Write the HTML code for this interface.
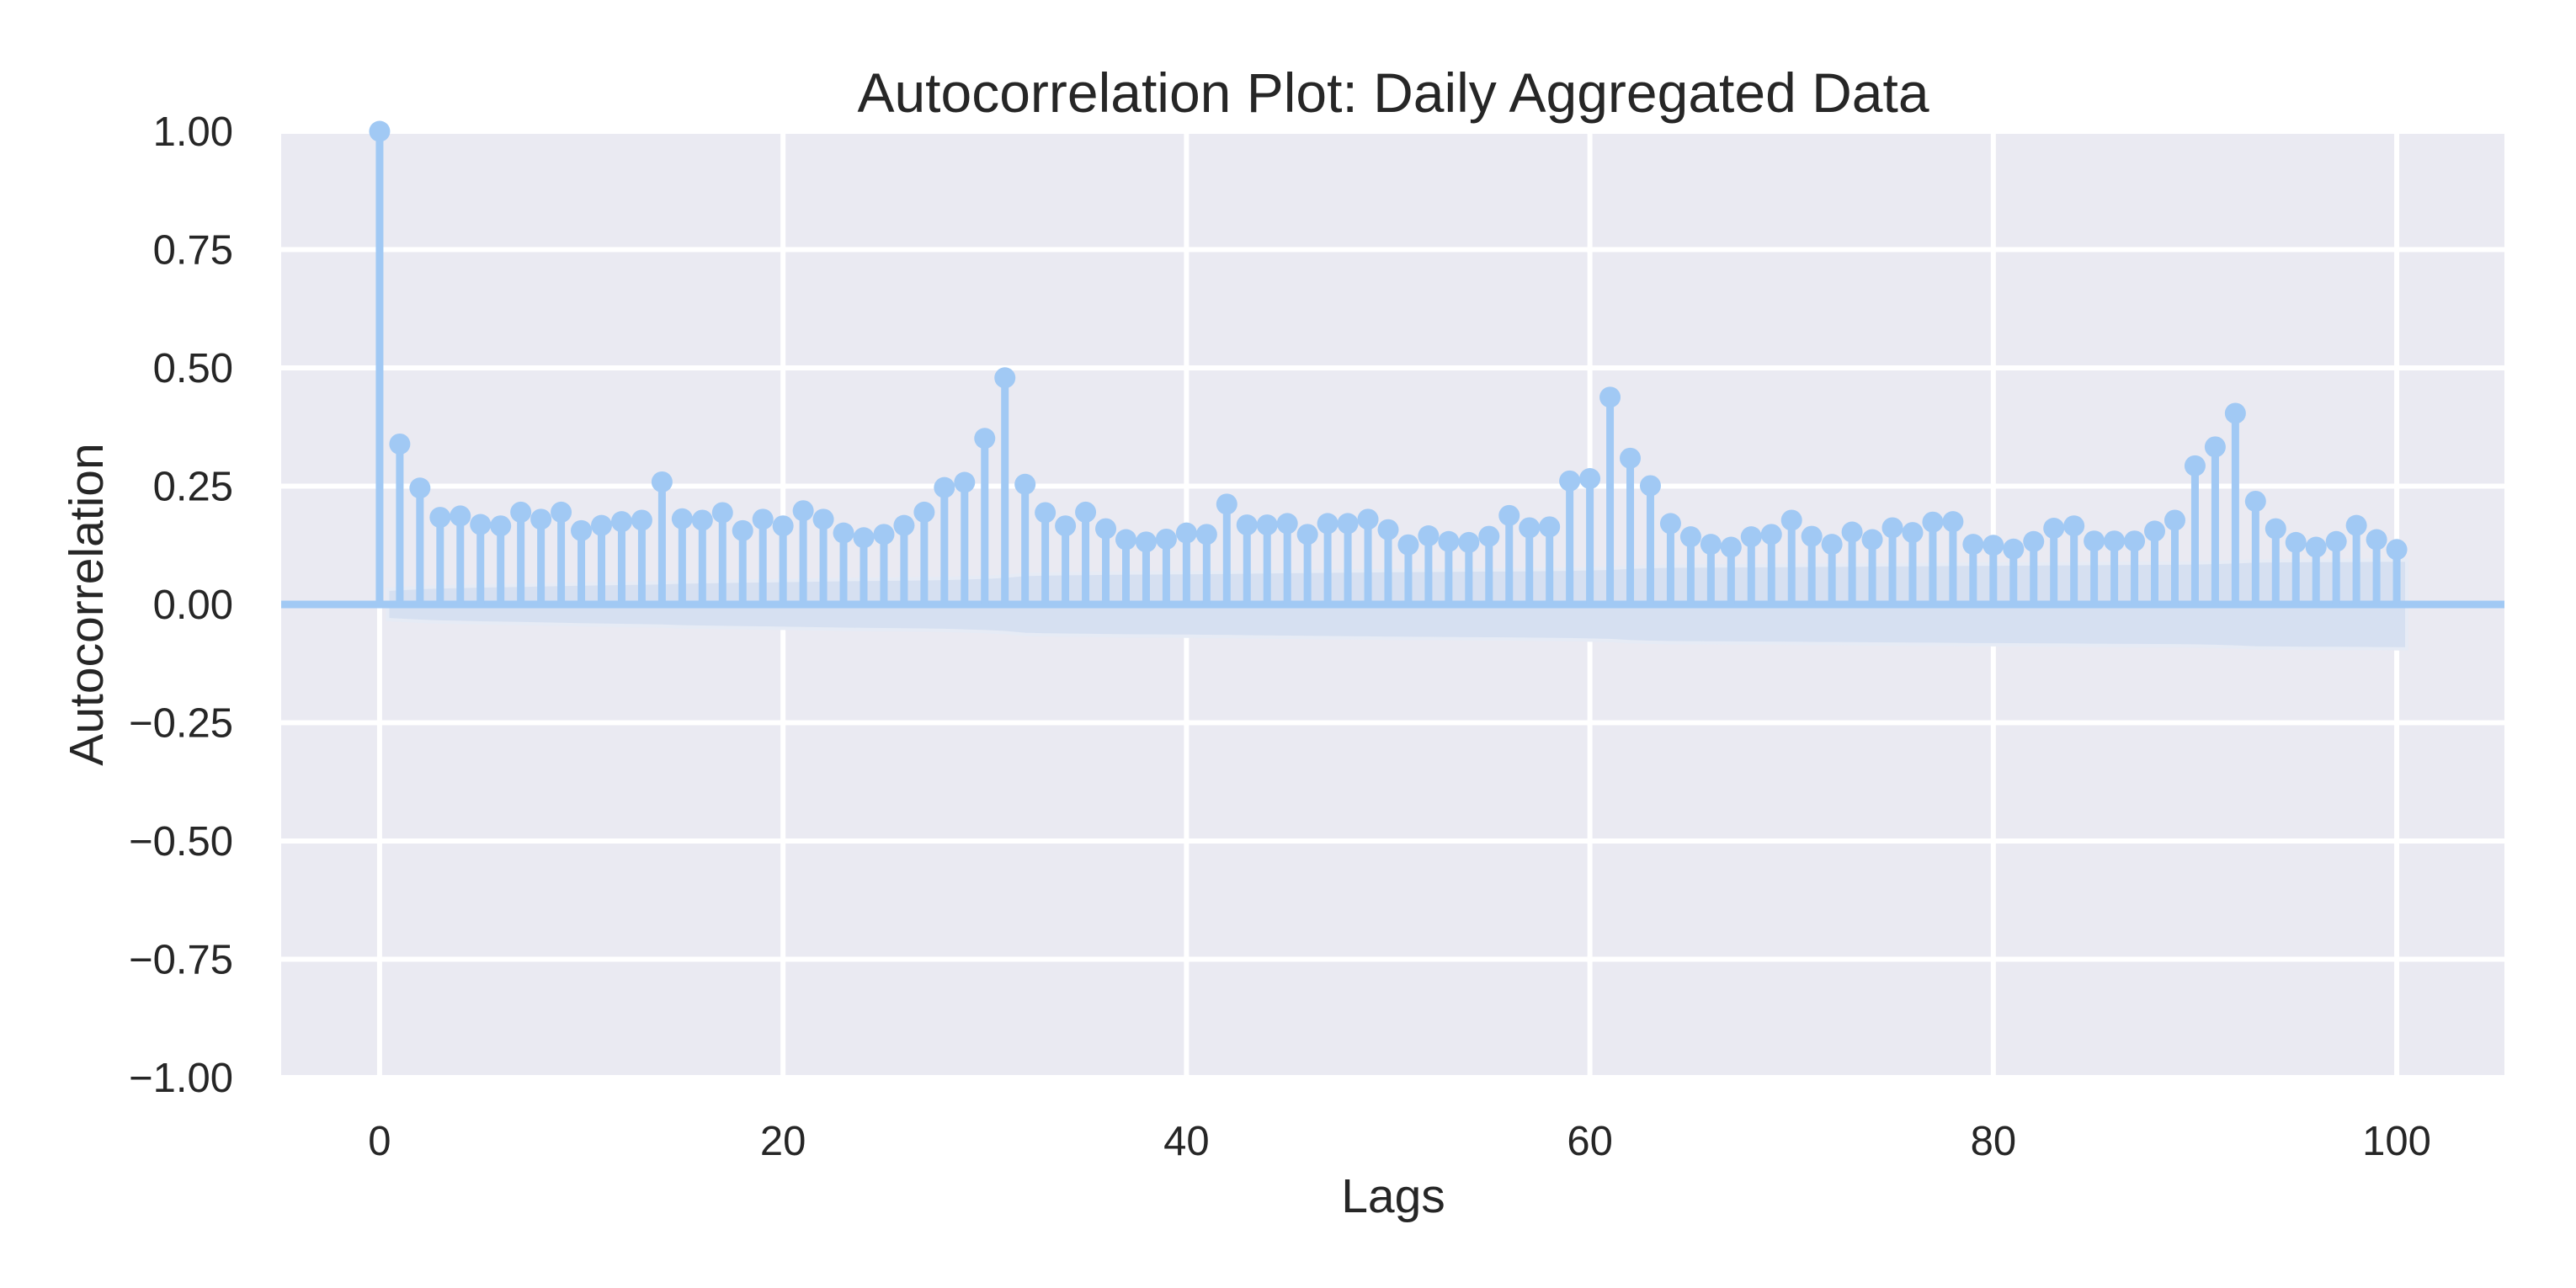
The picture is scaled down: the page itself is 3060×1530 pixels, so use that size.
<!DOCTYPE html>
<html>
<head>
<meta charset="utf-8">
<style>
html,body{margin:0;padding:0;background:#fff;}
svg{display:block;font-family:"Liberation Sans",Arial,sans-serif;}
</style>
</head>
<body>
<svg id="chart" width="3060" height="1530" viewBox="0 0 3060 1530" xmlns="http://www.w3.org/2000/svg">
  <rect x="334" y="156" width="2641" height="1124" fill="#eaeaf2"/>
  <g id="grid"></g>
  <g id="band"></g>
  <g id="zero"></g>
  <g id="stems"></g>
  <g id="yticks"></g>
  <g id="xticks"></g>
  <text x="1655" y="133" text-anchor="middle" font-size="66" fill="#262626">Autocorrelation Plot: Daily Aggregated Data</text>
  <text x="1655" y="1440" text-anchor="middle" font-size="57" fill="#262626">Lags</text>
  <text x="0" y="0" transform="translate(122,718) rotate(-90)" text-anchor="middle" font-size="57" fill="#262626">Autocorrelation</text>
</svg>
<script>
const acfValues = [1.0,0.339,0.246,0.184,0.187,0.169,0.166,0.195,0.180,0.195,
0.156,0.167,0.175,0.178,0.259,0.181,0.178,0.194,0.156,0.180,
0.166,0.198,0.180,0.151,0.141,0.148,0.167,0.195,0.247,0.258,
0.351,0.479,0.254,0.194,0.166,0.195,0.160,0.137,0.132,0.138,
0.151,0.148,0.212,0.168,0.168,0.171,0.148,0.171,0.171,0.180,
0.158,0.126,0.145,0.133,0.131,0.144,0.188,0.162,0.164,0.261,
0.266,0.438,0.309,0.251,0.171,0.143,0.127,0.121,0.143,0.148,
0.178,0.144,0.127,0.153,0.137,0.162,0.152,0.174,0.175,0.127,
0.125,0.117,0.133,0.161,0.166,0.134,0.134,0.134,0.155,0.178,
0.293,0.333,0.404,0.218,0.160,0.131,0.121,0.133,0.167,0.137,0.116];
const yTickValues = [1.0,0.75,0.5,0.25,0.0,-0.25,-0.5,-0.75,-1.0];
const yTickLabels = ["1.00","0.75","0.50","0.25","0.00","\u22120.25","\u22120.50","\u22120.75","\u22121.00"];
const xTickValues = [0,20,40,60,80,100];
const xTickLabels = ["0","20","40","60","80","100"];
const nObs = 3750;

const NS="http://www.w3.org/2000/svg";
const PL=334, PR=2975, PT=156, PB=1280;
const XMIN=-4.88, XMAX=105.34, YMIN=-1, YMAX=1;
function xs(v){return PL+(v-XMIN)/(XMAX-XMIN)*(PR-PL);}
function ys(v){return PB-(v-YMIN)/(YMAX-YMIN)*(PB-PT);}
function mk(tag,attrs,parent){const e=document.createElementNS(NS,tag);for(const k in attrs)e.setAttribute(k,attrs[k]);parent.appendChild(e);return e;}

const grid=document.getElementById('grid');
yTickValues.forEach((v,i)=>{
  const l=mk('line',{x1:PL,x2:PR,y1:ys(v),y2:ys(v),stroke:'#fff','stroke-width':6},grid);
  
  
  const t=mk('text',{x:277,y:ys(v)+17,'text-anchor':'end','font-size':49,fill:'#262626'},document.getElementById('yticks'));
  t.textContent=yTickLabels[i];
  
  
});
xTickValues.forEach((v,i)=>{
  const l=mk('line',{x1:xs(v),x2:xs(v),y1:PT,y2:PB,stroke:'#fff','stroke-width':6},grid);
  
  
  const t=mk('text',{x:xs(v),y:1372,'text-anchor':'middle','font-size':49,fill:'#262626'},document.getElementById('xticks'));
  t.textContent=xTickLabels[i];
  
  
});

// confidence band (Bartlett)
let upper=[], lagsB=[];
let cum=0;
for(let k=1;k<acfValues.length;k++){
  const se=1.96*Math.sqrt((1+2*cum)/nObs);
  upper.push(se); lagsB.push(k);
  cum+=acfValues[k]*acfValues[k];
}
let d='';
const xb=[0.4].concat(lagsB.slice(1,-1)).concat([lagsB[lagsB.length-1]+0.5]);
for(let i=0;i<upper.length;i++){d+=(i?'L':'M')+xs(xb[i])+','+ys(upper[i]);}
for(let i=upper.length-1;i>=0;i--){d+='L'+xs(xb[i])+','+ys(-upper[i]);}
d+='Z';
const band=mk('path',{d:d,fill:'#d6e0f1',stroke:'#e6ebf5','stroke-width':4},document.getElementById('band'));



const z=mk('line',{x1:PL,x2:PR,y1:ys(0),y2:ys(0),stroke:'#a1c9f4','stroke-width':9},document.getElementById('zero'));



const stems=document.getElementById('stems');
acfValues.forEach((v,k)=>{
  const s=mk('line',{x1:xs(k),x2:xs(k),y1:ys(0),y2:ys(v),stroke:'#a1c9f4','stroke-width':9},stems);
  
  
  const c=mk('circle',{cx:xs(k),cy:ys(v),r:12.5,fill:'#a1c9f4'},stems);
  
  
});
</script>
</body>
</html>
